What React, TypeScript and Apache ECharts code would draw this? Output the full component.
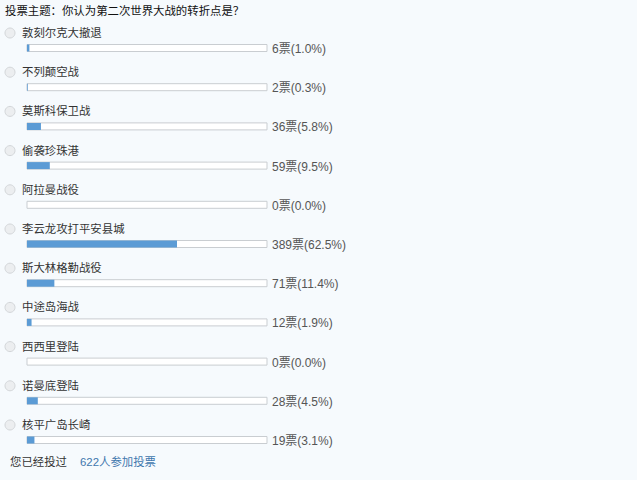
import React, { useEffect, useRef } from "react";
import * as echarts from "echarts";

const titleText = "投票主题：你认为第二次世界大战的转折点是？";
const options = [
  "敦刻尔克大撤退",
  "不列颠空战",
  "莫斯科保卫战",
  "偷袭珍珠港",
  "阿拉曼战役",
  "李云龙攻打平安县城",
  "斯大林格勒战役",
  "中途岛海战",
  "西西里登陆",
  "诺曼底登陆",
  "核平广岛长崎",
];
const votes = [6, 2, 36, 59, 0, 389, 71, 12, 0, 28, 19];
const percents = [1.0, 0.3, 5.8, 9.5, 0.0, 62.5, 11.4, 1.9, 0.0, 4.5, 3.1];
const footerVoted = "您已经投过";
const footerCount = "622人参加投票";

const FONT = '"Liberation Sans", "Noto Sans CJK SC", sans-serif';

export default function App() {
  const ref = useRef<HTMLDivElement>(null);
  useEffect(() => {
    if (!ref.current) return;
    const chart = echarts.init(ref.current, null, { renderer: "svg" });
    chart.setOption({
      animation: false,
      backgroundColor: "#f6fafd",
      grid: { left: 27, right: 370, top: 28.4, bottom: 20.4 },
      xAxis: { type: "value", min: 0, max: 100, show: false },
      yAxis: {
        type: "category",
        data: options,
        inverse: true,
        show: false,
      },
      graphic: [
        {
          type: "text",
          left: 5,
          top: 5,
          style: { text: titleText, font: `11.4px ${FONT}`, fill: "#111" },
        },
        {
          type: "text",
          left: 10,
          top: 456,
          style: { text: footerVoted, font: `11.4px ${FONT}`, fill: "#333" },
        },
        {
          type: "text",
          left: 80,
          top: 456,
          style: { text: footerCount, font: `11.4px ${FONT}`, fill: "#3f77ad" },
        },
      ],
      series: [
        {
          type: "bar",
          data: percents,
          barWidth: 7,
          itemStyle: { color: "#5b9bd5" },
          showBackground: true,
          backgroundStyle: {
            color: "#ffffff",
            borderColor: "#c9cdd1",
            borderWidth: 1,
          },
          silent: true,
        },
        {
          type: "custom",
          data: options.map((name, i) => [0, name, votes[i], percents[i]]),
          encode: { x: 0, y: 1 },
          silent: true,
          renderItem: (params: any, api: any) => {
            const i = params.dataIndex;
            const p = api.coord([0, options[i]]);
            const end = api.coord([100, options[i]]);
            const cy = p[1];
            const ly = cy - 15;
            return {
              type: "group",
              children: [
                {
                  type: "circle",
                  shape: { cx: 10, cy: ly, r: 5 },
                  style: { fill: "#eceef0", stroke: "#d3d6d9", lineWidth: 1 },
                },
                {
                  type: "text",
                  x: 22,
                  y: ly,
                  style: {
                    text: options[i],
                    font: `11.4px ${FONT}`,
                    fill: "#333",
                    verticalAlign: "middle",
                    align: "left",
                  },
                },
                {
                  type: "text",
                  x: end[0] + 5,
                  y: cy + 1,
                  style: {
                    text: `${votes[i]}票(${percents[i].toFixed(1)}%)`,
                    font: `12px ${FONT}`,
                    fill: "#555",
                    verticalAlign: "middle",
                    align: "left",
                  },
                },
              ],
            };
          },
        },
      ],
    });
    return () => chart.dispose();
  }, []);
  return (
    <div
      ref={ref}
      style={{ position: "fixed", left: 0, top: 0, width: 637, height: 480 }}
    />
  );
}
